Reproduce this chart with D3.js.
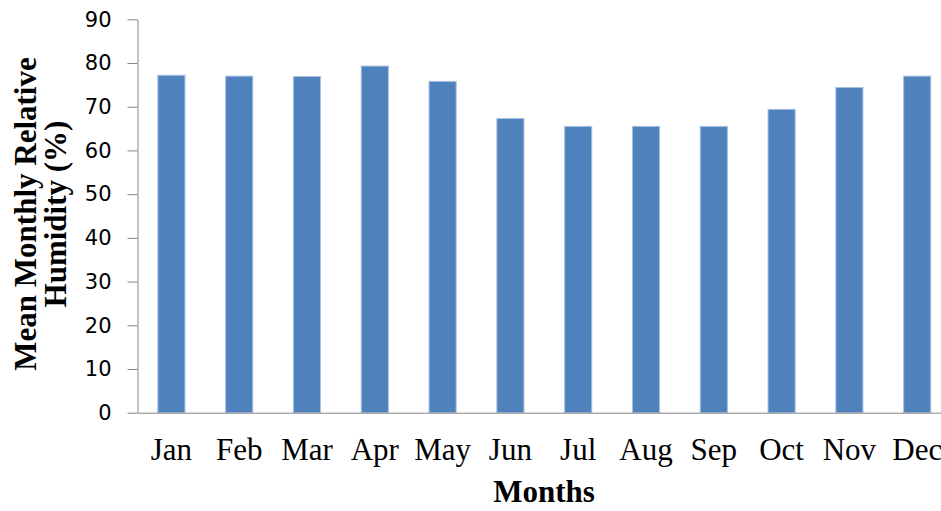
<!DOCTYPE html>
<html>
<head>
<meta charset="utf-8">
<script src="https://cdn.jsdelivr.net/npm/d3@7"></script>
<style>
  body { margin: 0; background: #fff; }
  svg { display: block; }
</style>
</head>
<body>
<div id="chart"></div>
<script>
// ==================== données ====================//
const months = ["Jan", "Feb", "Mar", "Apr", "May", "Jun", "Jul", "Aug", "Sep", "Oct", "Nov", "Dec"];
const humidity = [77.2, 77.0, 76.9, 79.3, 75.8, 67.3, 65.5, 65.5, 65.5, 69.4, 74.4, 77.0];
const yTicks = [0, 10, 20, 30, 40, 50, 60, 70, 80, 90];

const width = 941;
const height = 511;
const margin = { left: 137.5, top: 19.3, bottom: 98.3 };

const svg = d3.select("#chart")
    .append("svg")
    .attr("width", width)
    .attr("height", height);

const x = d3.scaleBand()
    .domain(months)
    .range([margin.left, margin.left + 813.6])
    .paddingInner(0.6)
    .paddingOuter(0.3);

const y = d3.scaleLinear()
    .domain([0, 90])
    .range([height - margin.bottom, margin.top]);

// barres
svg.selectAll("rect.bar")
    .data(humidity)
    .enter()
    .append("rect")
    .attr("class", "bar")
    .attr("x", (d, i) => x(months[i]))
    .attr("y", d => y(d))
    .attr("width", x.bandwidth())
    .attr("height", d => y(0) - y(d))
    .attr("fill", "#4F81BD")
    .attr("stroke", "#a9c1df")
    .attr("stroke-width", 1);

// axe Y
const yAxis = svg.append("g")
    .attr("transform", `translate(${margin.left},0)`)
    .call(d3.axisLeft(y).tickValues(yTicks).tickSize(10).tickPadding(16).tickSizeOuter(0));
yAxis.select(".domain").attr("stroke", "#868686");
yAxis.selectAll(".tick line").attr("stroke", "#868686");
yAxis.selectAll(".tick text")
    .style("font-family", "'DejaVu Sans', Verdana, sans-serif")
    .style("font-size", "21px")
    .attr("fill", "#000");

// axe X
const xAxis = svg.append("g")
    .attr("transform", `translate(0,${y(0)})`)
    .call(d3.axisBottom(x).tickSize(0).tickPadding(25));
xAxis.select(".domain").attr("stroke", "#868686");
xAxis.selectAll(".tick text")
    .style("font-family", "'Liberation Serif', 'Times New Roman', serif")
    .style("font-size", "31px")
    .attr("fill", "#000");

// titres
svg.append("text")
    .attr("x", 544)
    .attr("y", 502)
    .attr("text-anchor", "middle")
    .style("font-family", "'Liberation Serif', 'Times New Roman', serif")
    .style("font-weight", "bold")
    .style("font-size", "31px")
    .text("Months");

const yTitle = svg.append("text")
    .attr("transform", "translate(36,214) rotate(-90)")
    .attr("text-anchor", "middle")
    .style("font-family", "'Liberation Serif', 'Times New Roman', serif")
    .style("font-weight", "bold")
    .style("font-size", "31px");
yTitle.append("tspan").attr("x", 0).attr("y", 0).text("Mean Monthly Relative");
yTitle.append("tspan").attr("x", 0).attr("y", 30).text("Humidity (%)");
</script>
</body>
</html>
